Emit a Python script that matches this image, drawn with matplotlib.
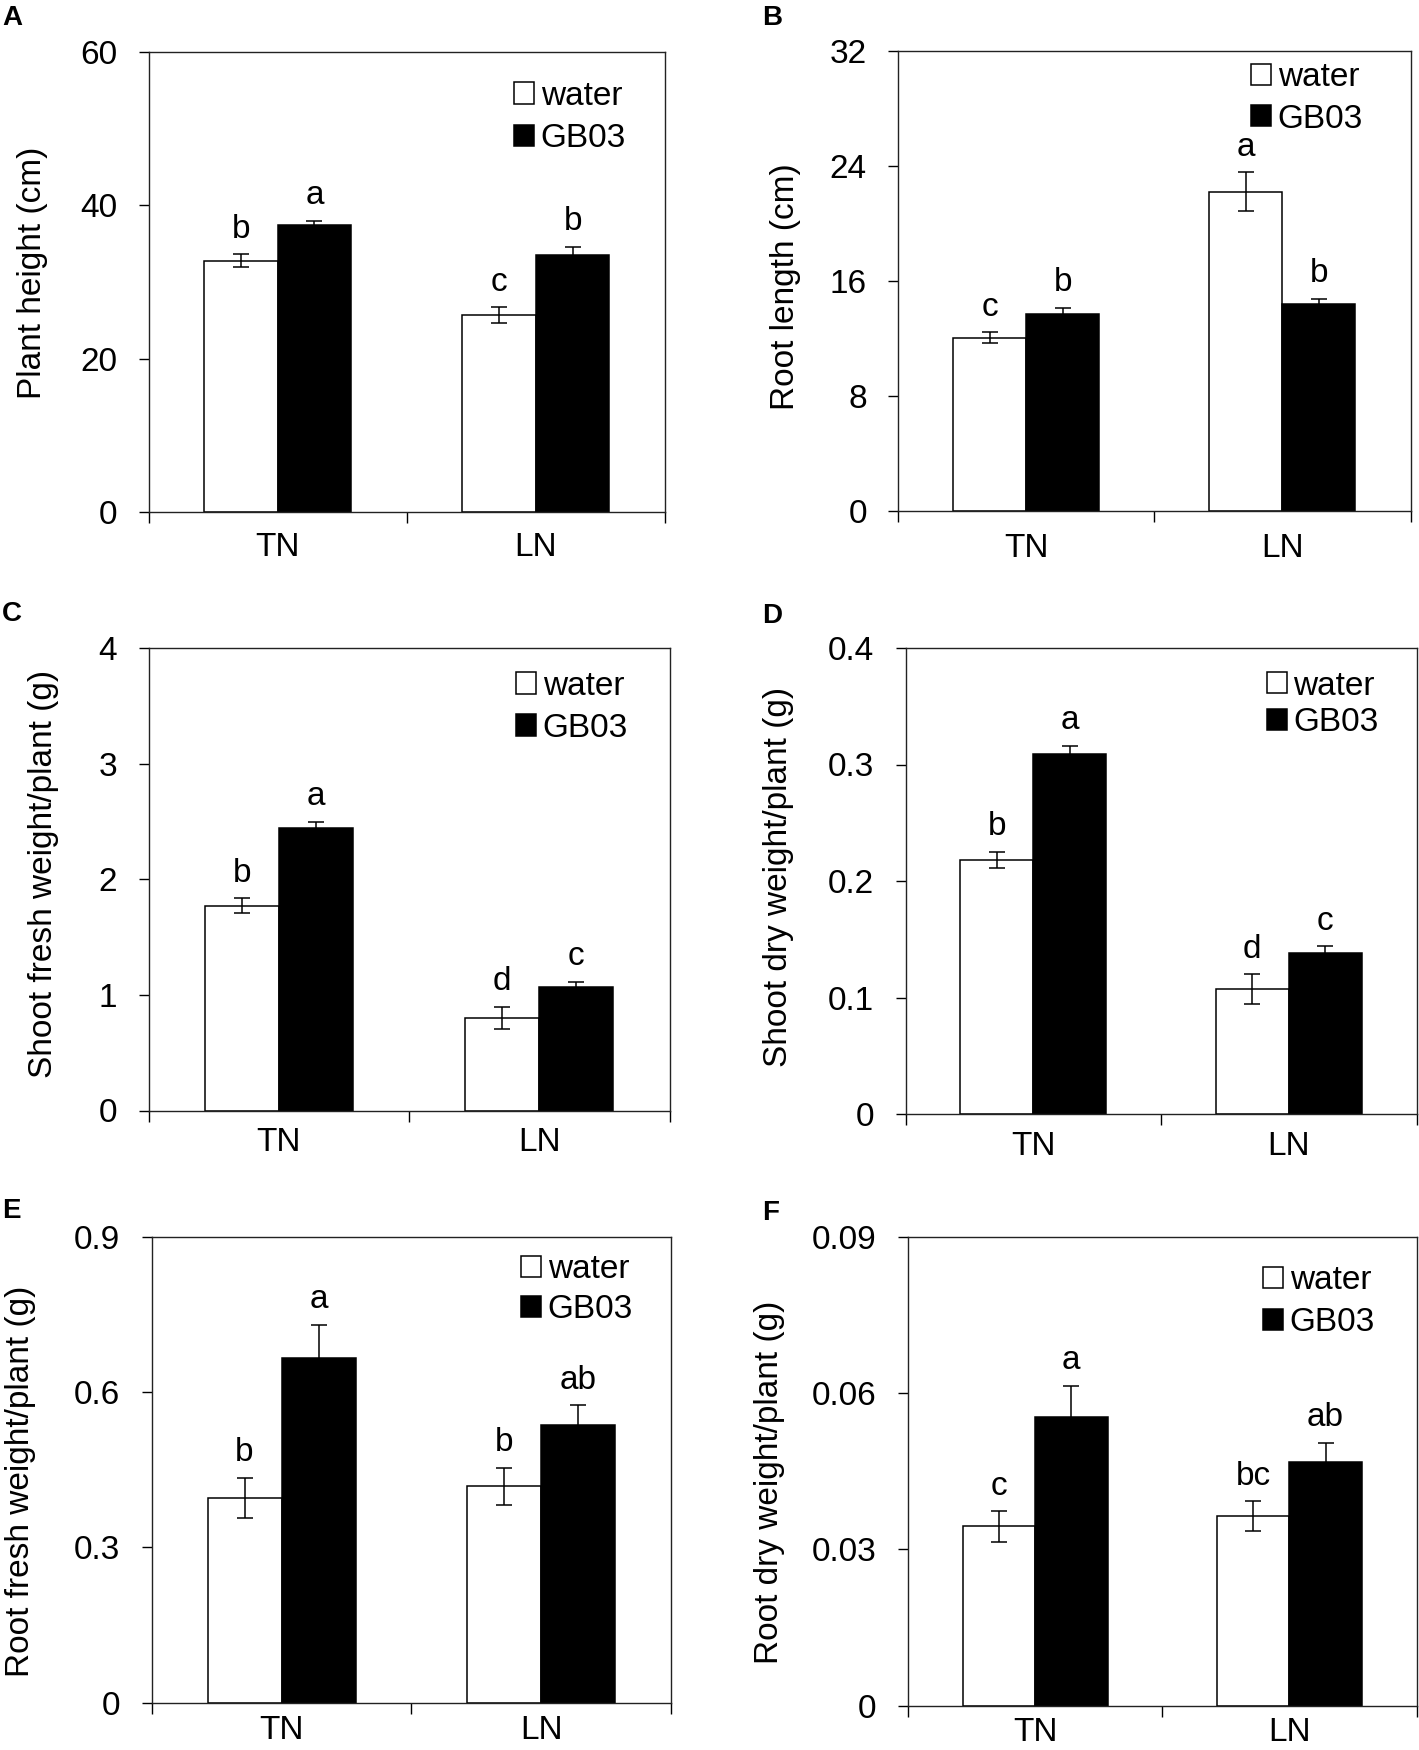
import matplotlib
matplotlib.use("Agg")
import matplotlib.pyplot as plt
import numpy as np
from matplotlib.ticker import FuncFormatter

plt.rcParams['font.family'] = ['Liberation Sans', 'DejaVu Sans']

categories = ['TN', 'LN']
treatments = ['water', 'GB03']

# A - plant height
height_water = [32.8, 25.7]
height_water_se = [0.8, 1.0]
height_gb03 = [37.4, 33.5]
height_gb03_se = [0.6, 1.1]
height_letters = [['b', 'c'], ['a', 'b']]
height_ticks = [0, 20, 40, 60]

# B - root length
rootlen_water = [12.05, 22.2]
rootlen_water_se = [0.37, 1.36]
rootlen_gb03 = [13.7, 14.4]
rootlen_gb03_se = [0.44, 0.36]
rootlen_letters = [['c', 'a'], ['b', 'b']]
rootlen_ticks = [0, 8, 16, 24, 32]

# C - shoot fresh weight
shootfw_water = [1.77, 0.80]
shootfw_water_se = [0.065, 0.095]
shootfw_gb03 = [2.44, 1.07]
shootfw_gb03_se = [0.055, 0.042]
shootfw_letters = [['b', 'd'], ['a', 'c']]
shootfw_ticks = [0, 1, 2, 3, 4]

# D - shoot dry weight
shootdw_water = [0.218, 0.107]
shootdw_water_se = [0.007, 0.013]
shootdw_gb03 = [0.309, 0.138]
shootdw_gb03_se = [0.007, 0.006]
shootdw_letters = [['b', 'd'], ['a', 'c']]
shootdw_ticks = [0, 0.1, 0.2, 0.3, 0.4]

# E - root fresh weight
rootfw_water = [0.395, 0.418]
rootfw_water_se = [0.039, 0.036]
rootfw_gb03 = [0.666, 0.536]
rootfw_gb03_se = [0.064, 0.038]
rootfw_letters = [['b', 'b'], ['a', 'ab']]
rootfw_ticks = [0, 0.3, 0.6, 0.9]

# F - root dry weight
rootdw_water = [0.0344, 0.0364]
rootdw_water_se = [0.0029, 0.0028]
rootdw_gb03 = [0.0554, 0.0468]
rootdw_gb03_se = [0.006, 0.0036]
rootdw_letters = [['c', 'bc'], ['a', 'ab']]
rootdw_ticks = [0, 0.03, 0.06, 0.09]

panels = [
    ('A', 'Plant height (cm)', height_water, height_water_se, height_gb03, height_gb03_se, height_letters, height_ticks),
    ('B', 'Root length (cm)', rootlen_water, rootlen_water_se, rootlen_gb03, rootlen_gb03_se, rootlen_letters, rootlen_ticks),
    ('C', 'Shoot fresh weight/plant (g)', shootfw_water, shootfw_water_se, shootfw_gb03, shootfw_gb03_se, shootfw_letters, shootfw_ticks),
    ('D', 'Shoot dry weight/plant (g)', shootdw_water, shootdw_water_se, shootdw_gb03, shootdw_gb03_se, shootdw_letters, shootdw_ticks),
    ('E', 'Root fresh weight/plant (g)', rootfw_water, rootfw_water_se, rootfw_gb03, rootfw_gb03_se, rootfw_letters, rootfw_ticks),
    ('F', 'Root dry weight/plant (g)', rootdw_water, rootdw_water_se, rootdw_gb03, rootdw_gb03_se, rootdw_letters, rootdw_ticks),
]

# layout in pixels: axes box (left, top, right, bottom), panel letter pos,
# legend anchor (axes frac) and row gap (px), ylabel coords (axes frac), x label gap (px)
layout = {
    'A': dict(box=(148.5, 52, 665, 512), tag=(2, 5), leg=(0.708, 0.858), rowgap=43.4, ylab=(-0.195, 0.52), xgap=26.5),
    'B': dict(box=(898, 51, 1410.5, 511), tag=(762, 5), leg=(0.689, 0.897), rowgap=42.6, ylab=(-0.19, 0.487), xgap=28),
    'C': dict(box=(148.5, 648, 669.5, 1110.5), tag=(2, 601), leg=(0.7055, 0.872), rowgap=43.3, ylab=(-0.172, 0.511), xgap=22.5),
    'D': dict(box=(905.5, 648, 1416.5, 1114), tag=(762, 603), leg=(0.707, 0.879), rowgap=38, ylab=(-0.219, 0.508), xgap=22.6),
    'E': dict(box=(151.7, 1236.6, 671.2, 1702.7), tag=(2, 1198), leg=(0.711, 0.886), rowgap=41.6, ylab=(-0.222, 0.475), xgap=18.3),
    'F': dict(box=(908, 1236.6, 1416.5, 1705.7), tag=(762, 1200), leg=(0.698, 0.861), rowgap=43.5, ylab=(-0.242, 0.477), xgap=17.3),
}

W, H = 1419, 1750
FS = 24
EM = FS * 100 / 72
fig = plt.figure(figsize=(W / 100, H / 100), dpi=100)

x = np.arange(len(categories)) + 0.5
bw = 0.285
err_style = dict(ecolor='black', elinewidth=1.1, capsize=5.8, capthick=1.1)

for tag, ylabel, water, water_se, gb03, gb03_se, letters, ticks in panels:
    lay = layout[tag]
    l, t, r, b = lay['box']
    ax = fig.add_axes([l / W, 1 - b / H, (r - l) / W, (b - t) / H])

    ax.bar(x - bw / 2, water, bw, yerr=water_se, color='white', edgecolor='black',
           linewidth=1.1, label=treatments[0], error_kw=err_style, zorder=2)
    ax.bar(x + bw / 2, gb03, bw, yerr=gb03_se, color='black', edgecolor='black',
           linewidth=1.1, label=treatments[1], error_kw=err_style, zorder=2)

    for i in range(len(categories)):
        ax.annotate(letters[0][i], (x[i] - bw / 2, water[i] + water_se[i]), xytext=(0, 12),
                    textcoords='offset points', ha='center', va='baseline', fontsize=FS)
        ax.annotate(letters[1][i], (x[i] + bw / 2, gb03[i] + gb03_se[i]), xytext=(0, 12),
                    textcoords='offset points', ha='center', va='baseline', fontsize=FS)

    ax.set_xlim(0, len(categories))
    ax.set_ylim(ticks[0], ticks[-1])
    ax.set_xticks(np.arange(len(categories) + 1))
    ax.set_xticklabels([])
    ax.set_xticks(x, minor=True)
    ax.set_xticklabels(categories, minor=True)
    ax.tick_params(axis='x', which='major', direction='out', length=8, width=1, top=False)
    ax.tick_params(axis='x', which='minor', length=0, pad=(lay['xgap'] - 6) * 0.72, labelsize=FS)
    ax.set_yticks(ticks)
    ax.yaxis.set_major_formatter(FuncFormatter(lambda v, p: '%g' % v))
    ax.tick_params(axis='y', direction='out', length=7.5, width=1, pad=15, labelsize=FS, right=False)

    for s in ax.spines.values():
        s.set_linewidth(1.0)
        s.set_color('#222222')

    ax.set_ylabel(ylabel, fontsize=FS)
    ax.yaxis.set_label_coords(*lay['ylab'])

    ax.legend(loc='center left', bbox_to_anchor=lay['leg'], frameon=False, borderpad=0,
              borderaxespad=0, handlelength=0.6, handleheight=0.6, handletextpad=0.2,
              labelspacing=(lay['rowgap'] - 0.97 * EM) / EM, fontsize=FS)

    tx, ty = lay['tag']
    fig.text(tx / W, 1 - ty / H, tag, fontsize=20, fontweight='bold', ha='left', va='top')

fig.savefig('out.png', dpi=100, facecolor='white')
